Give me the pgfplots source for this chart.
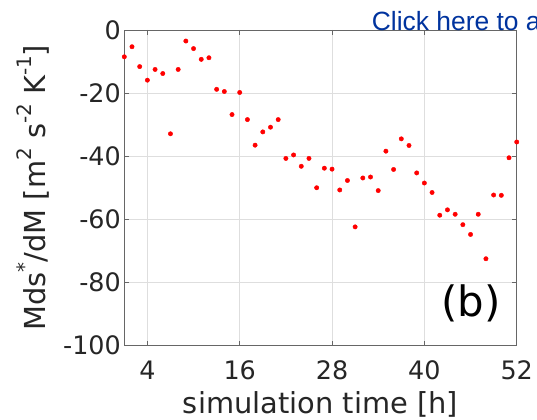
\documentclass[border=0pt]{standalone}
\usepackage{pgfplots}
\pgfplotsset{compat=1.18}
\usepackage{fontspec}
\setmainfont{DejaVu Sans}
\newfontfamily\arialfont{Liberation Sans}
\definecolor{linkblue}{rgb}{0.0,0.2,0.62}
\definecolor{txt}{rgb}{0.15,0.15,0.15}
\newcommand{\supx}[1]{\raisebox{0.48em}{\fontsize{20}{24}\selectfont #1}}
\begin{document}
\begin{tikzpicture}[x=1bp,y=1bp]
\useasboundingbox (0,0) rectangle (537,419);
\begin{axis}[
  at={(124.3bp,73.5bp)}, anchor=south west,
  width=392.4bp, height=315.5bp, scale only axis,
  xmin=1, xmax=52, ymin=-100, ymax=0,
  xtick={4,16,28,40,52}, xticklabels={4,16,28,40,52},
  ytick={-100,-80,-60,-40,-20,0}, yticklabels={-100,-80,-60,-40,-20,0},
  grid=major, major grid style={black!13, line width=0.5bp},
  axis line style={black!60, line width=0.7bp},
  tick style={black!60, line width=0.7bp},
  tick align=inside, major tick length=5bp,
  ticklabel style={font=\fontsize{25.5}{30}\selectfont, text=txt},
  xticklabel style={anchor=base, yshift=-34.2bp},
  xlabel={simulation time [h]},
  ylabel={Mds\supx{*}/dM [m\supx{2} s\supx{-2} K\supx{-1}]},
  label style={font=\fontsize{29}{34}\selectfont, text=txt},
  xlabel style={at={(axis description cs:0.5,-0.214)}, anchor=base},
  ylabel style={at={(axis description cs:-0.202,0.5)}, anchor=base},
  clip=false,
]
\addplot[only marks, mark=*, mark size=2.2bp, color=red] coordinates {
(1,-8.5) (2,-5.3) (3,-11.6) (4,-15.9) (5,-12.5) (6,-13.8) (7,-32.9) (8,-12.5)
(9,-3.5) (10,-5.9) (11,-9.3) (12,-8.8) (13,-18.8) (14,-19.5) (15,-26.8) (16,-19.8)
(17,-28.4) (18,-36.5) (19,-32.3) (20,-30.8) (21,-28.4) (22,-40.7) (23,-39.6) (24,-43.2)
(25,-40.7) (26,-50.0) (27,-43.8) (28,-44.1) (29,-50.7) (30,-47.7) (31,-62.4) (32,-46.9)
(33,-46.6) (34,-50.9) (35,-38.4) (36,-44.2) (37,-34.5) (38,-36.6) (39,-45.3) (40,-48.5)
(41,-51.5) (42,-58.7) (43,-57.0) (44,-58.4) (45,-61.7) (46,-64.8) (47,-58.4) (48,-72.5)
(49,-52.3) (50,-52.4) (51,-40.5) (52,-35.5)
};
\end{axis}
\node[anchor=base, inner sep=0, font=\fontsize{42}{48}\selectfont] at (470.8,103) {(b)};
\node[anchor=base west, inner sep=0, text=linkblue, font=\arialfont\fontsize{26.5}{31}\selectfont] at (371.7,388) {Click here to a};
\end{tikzpicture}
\end{document}
